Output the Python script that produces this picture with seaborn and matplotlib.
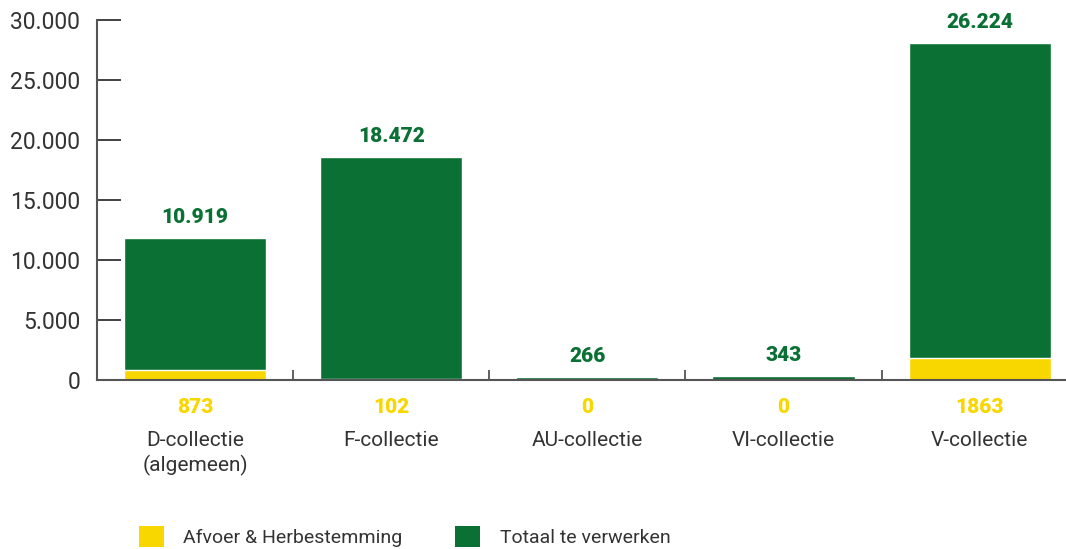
import matplotlib
matplotlib.use("Agg")
import matplotlib.pyplot as plt
from matplotlib.patches import Patch
from matplotlib.ticker import FuncFormatter, FixedLocator
import seaborn as sns
import pandas as pd

categories = ["D-collectie\n(algemeen)", "F-collectie", "AU-collectie", "VI-collectie", "V-collectie"]
afvoer = [873, 102, 0, 0, 1863]
totaal = [10919, 18472, 266, 343, 26224]
afvoer_labels = ["873", "102", "0", "0", "1863"]
totaal_labels = ["10.919", "18.472", "266", "343", "26.224"]
legend_labels = ["Afvoer & Herbestemming", "Totaal te verwerken"]

GREEN = "#0a7034"
YELLOW = "#f8d600"
GRAY = "#333333"

sns.set_theme(style="white")
plt.rcParams["font.family"] = ["Roboto", "DejaVu Sans"]

df = pd.DataFrame({
    "cat": categories,
    "afvoer": afvoer,
    "totaal": totaal,
})
df["stack"] = df["afvoer"] + df["totaal"]

fig = plt.figure(figsize=(10.66, 5.49), dpi=100)
ax = fig.add_axes([97 / 1066, 1 - 380 / 549, 1 - 97 / 1066, (380 - 20) / 549])

sns.barplot(data=df, x="cat", y="stack", color=GREEN, saturation=1, width=0.725, ax=ax)
sns.barplot(data=df, x="cat", y="afvoer", color=YELLOW, saturation=1, width=0.725, ax=ax)

ax.set_ylim(0, 30000)
ax.set_xlim(-0.5, 4.44)
ax.set_xlabel("")
ax.set_ylabel("")

for s in ["top", "right"]:
    ax.spines[s].set_visible(False)
for s in ["left", "bottom"]:
    ax.spines[s].set_color("#555555")
    ax.spines[s].set_linewidth(1.5)

ax.yaxis.set_major_locator(FixedLocator([0, 5000, 10000, 15000, 20000, 25000, 30000]))
ax.yaxis.set_major_formatter(FuncFormatter(lambda v, p: f"{v:,.0f}".replace(",", ".")))
ax.tick_params(axis="y", direction="in", length=17, width=1.3, color="#333333",
               labelsize=16.5, labelcolor=GRAY, pad=12, left=True)

ax.set_xticks(range(len(categories)))
ax.set_xticklabels(categories, fontsize=15, color=GRAY, linespacing=1.25)
ax.tick_params(axis="x", length=0, pad=37)
ax.set_xticks([0.5, 1.5, 2.5, 3.5], minor=True)
ax.tick_params(axis="x", which="minor", direction="in", length=7, width=1.3, color="#555555", bottom=True)

for i, (tot, lab) in enumerate(zip(df["stack"], totaal_labels)):
    ax.annotate(lab, (i, tot), xytext=(0, 8), textcoords="offset points",
                ha="center", va="bottom", fontsize=15, fontweight="black", color=GREEN,
                annotation_clip=False)

for i, lab in enumerate(afvoer_labels):
    ax.annotate(lab, (i, 0), xytext=(0, -20), textcoords="offset points",
                ha="center", va="center", fontsize=15, fontweight="black", color=YELLOW,
                annotation_clip=False)

handles = [Patch(facecolor=YELLOW, edgecolor="none"), Patch(facecolor=GREEN, edgecolor="none")]
leg = fig.legend(handles, legend_labels, loc="center left", bbox_to_anchor=(0.13, 0.023),
                 ncol=2, frameon=False, fontsize=14, handlelength=1.3, handleheight=1.25,
                 handletextpad=1.0, columnspacing=2.7, borderpad=0, borderaxespad=0)
for t in leg.get_texts():
    t.set_color(GRAY)

fig.savefig("out.png", dpi=100)
